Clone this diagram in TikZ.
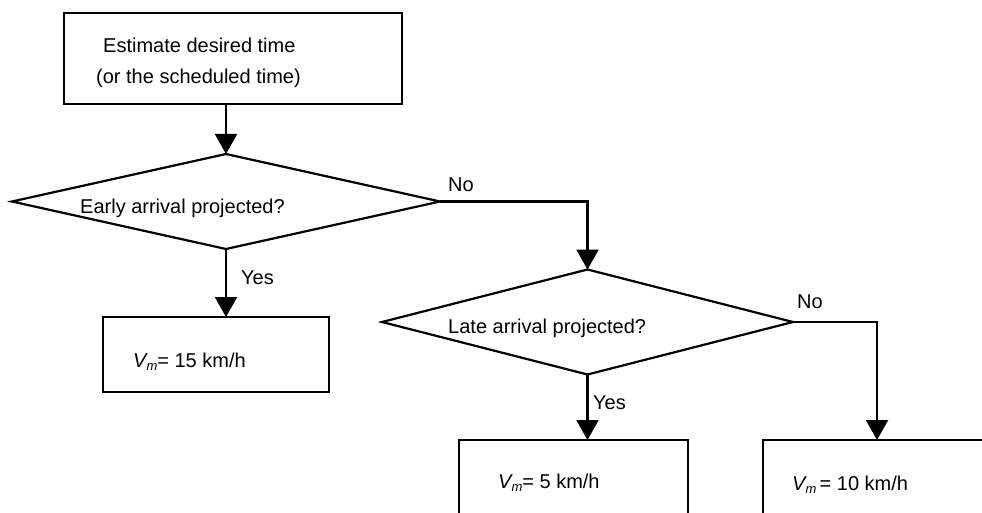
\documentclass[tikz,border=0pt]{standalone}
\usepackage{fontspec}
\setmainfont{Liberation Sans}
\usetikzlibrary{shapes.geometric,arrows.meta}
\newcommand{\Vm}{{\itshape V}\raisebox{-3pt}{\fontsize{13}{13}\selectfont\itshape m}}
\begin{document}
\begin{tikzpicture}[x=1pt,y=-1pt,
  ln/.style={line width=2.2pt},
  boxnode/.style={ln,draw,rectangle,inner sep=0pt,outer sep=0pt},
  decnode/.style={ln,draw,diamond,inner sep=0pt,outer sep=0pt},
  txt/.style={anchor=base west,inner sep=0pt,font=\fontsize{20}{24}\selectfont},
  arr/.style={ln,-{Triangle[length=20pt,width=22pt]}}]
\useasboundingbox (0,0) rectangle (982,513);
\clip (0,0) rectangle (982,513);
\node[boxnode,minimum width=338pt,minimum height=91pt] (start) at (233,58.5) {};
\node[decnode,minimum width=428pt,minimum height=95pt] (d1) at (226,201.5) {};
\node[decnode,minimum width=411pt,minimum height=105pt] (d2) at (587.5,322) {};
\node[boxnode,minimum width=226pt,minimum height=75pt] (b15) at (216,354.5) {};
\node[boxnode,minimum width=229pt,minimum height=90pt] (b5) at (573.5,485) {};
\node[boxnode,minimum width=228pt,minimum height=90pt] (b10) at (877,485) {};

\node[txt] (t1) at (103,53) {Estimate desired time};
\node[txt] (t2) at (96,84) {(or the scheduled time)};
\node[txt] (t3) at (80,213) {Early arrival projected?};
\node[txt] (t4) at (448,333) {Late arrival projected?};
\node[txt] (t5) at (133,367) {\Vm= 15 km/h};
\node[txt] (t6) at (498,488) {\Vm= 5 km/h};
\node[txt] (t7) at (792,490) {\Vm\,= 10 km/h};
\node[txt] (no1) at (448,192) {No};
\node[txt] (no2) at (797,308) {No};
\node[txt] (yes1) at (241,284) {Yes};
\node[txt] (yes2) at (593,409) {Yes};

\draw[arr] (d1.north |- start.south) -- (d1.north);
\draw[arr] (d1.east) -| (d2.north);
\draw[arr] (d1.south) -- (d1.south |- b15.north);
\draw[arr] (d2.south) -- (d2.south |- b5.north);
\draw[arr] (d2.east) -| (b10.north);
\end{tikzpicture}
\end{document}
